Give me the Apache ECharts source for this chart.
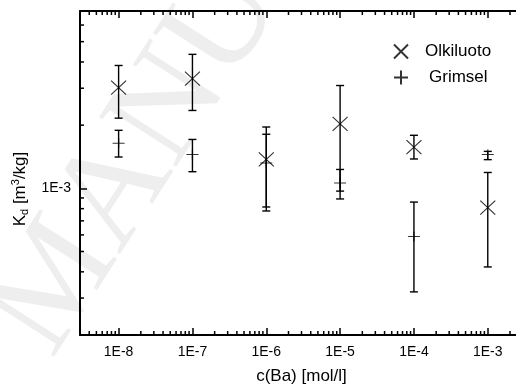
<!DOCTYPE html>
<html><head><meta charset="utf-8">
<script src="https://cdn.jsdelivr.net/npm/echarts@6/dist/echarts.min.js"></script>
<style>html,body{margin:0;padding:0;background:#fff}#c{width:516px;height:385px}</style>
</head><body><div id="c"></div>
<script>
// ---- data ----
const concentrations = [1e-8, 1e-7, 1e-6, 1e-5, 1e-4, 1e-3];
const olkiluotoKd   = [3.02e-3, 3.33e-3, 1.375e-3, 2.03e-3, 1.57e-3, 8.1e-4];
const olkiluotoHigh = [3.85e-3, 4.35e-3, 1.96e-3, 3.09e-3, 1.79e-3, 1.19e-3];
const olkiluotoLow  = [2.16e-3, 2.35e-3, 7.8e-4, 8.9e-4, 1.38e-3, 4.22e-4];
const grimselKd     = [1.64e-3, 1.45e-3, 1.32e-3, 1.06e-3, 5.9e-4, 1.45e-3];
const grimselHigh   = [1.89e-3, 1.71e-3, 1.81e-3, 1.23e-3, 8.6e-4, 1.50e-3];
const grimselLow    = [1.41e-3, 1.20e-3, 8.15e-4, 9.7e-4, 3.21e-4, 1.37e-3];
const seriesNames = ['Olkiluoto', 'Grimsel'];
const xTickLabels = ['1E-8', '1E-7', '1E-6', '1E-5', '1E-4', '1E-3'];
const yTickLabels = ['1E-3'];
const xDecades = [1e-9, 1e-8, 1e-7, 1e-6, 1e-5, 1e-4, 1e-3];
const yDecades = [1e-4, 1e-3];
const mantissas = [2, 3, 4, 5, 6, 7, 8, 9];
const xRange = [3e-9, 3e-3];
const yRange = [2e-4, 7e-3];

// minor tick values (log axis sub-ticks)
const xMinor = [], yMinor = [];
xDecades.forEach(d => mantissas.forEach(m => { const v = d * m; if (v > xRange[0] && v < xRange[1]) xMinor.push([v, 1e-3]); }));
yDecades.forEach(d => mantissas.forEach(m => { const v = d * m; if (v > yRange[0] && v < yRange[1]) yMinor.push([1e-6, v]); }));

const expLabel = v => '1E' + Math.round(Math.log10(v));

const X_PATH = 'path://M0,0L10,10M10,0L0,10';
const PLUS_PATH = 'path://M0,5L10,5M5,0L5,10';

function errData(low, high) { return concentrations.map((c, i) => [c, low[i], high[i]]); }
function ptData(vals) { return concentrations.map((c, i) => [c, vals[i]]); }

function renderErr(params, api) {
  const x = api.value(0);
  const lo = api.coord([x, api.value(1)]);
  const hi = api.coord([x, api.value(2)]);
  const st = { stroke: '#000', lineWidth: 1.4 };
  return { type: 'group', children: [
    { type: 'line', shape: { x1: lo[0], y1: lo[1], x2: hi[0], y2: hi[1] }, style: st },
    { type: 'line', shape: { x1: lo[0] - 4, y1: lo[1], x2: lo[0] + 4, y2: lo[1] }, style: st },
    { type: 'line', shape: { x1: hi[0] - 4, y1: hi[1], x2: hi[0] + 4, y2: hi[1] }, style: st }
  ]};
}
function renderXMinor(params, api) {
  const cs = params.coordSys;
  const p = api.coord([api.value(0), api.value(1)]);
  const st = { stroke: '#000', lineWidth: 1.5 };
  const b = cs.y + cs.height, t = cs.y;
  return { type: 'group', children: [
    { type: 'line', shape: { x1: p[0], y1: b, x2: p[0], y2: b - 4 }, style: st },
    { type: 'line', shape: { x1: p[0], y1: t, x2: p[0], y2: t + 4 }, style: st }
  ]};
}
function renderYMinor(params, api) {
  const cs = params.coordSys;
  const p = api.coord([api.value(0), api.value(1)]);
  return { type: 'line', shape: { x1: cs.x, y1: p[1], x2: cs.x + 4, y2: p[1] }, style: { stroke: '#000', lineWidth: 1.5 } };
}

const chart = echarts.init(document.getElementById('c'), null, { renderer: 'canvas' });
const axisLineStyle = { color: '#000', width: 2 };
const baseX = {
  type: 'log', logBase: 10, min: xRange[0], max: xRange[1],
  axisLine: { show: true, lineStyle: axisLineStyle },
  axisTick: { show: true, inside: true, length: 7, lineStyle: { color: '#000', width: 1.5 } },
  splitLine: { show: false }
};
chart.setOption({
  animation: false,
  backgroundColor: '#fff',
  textStyle: { fontFamily: 'Liberation Sans, Arial, sans-serif' },
  graphic: [{
    type: 'text', silent: true, z: -10,
    x: 80, y: 378, rotation: 1.0,
    style: { text: 'MANUSCRIPT', font: '140px "Liberation Serif"', fill: '#eeeeee', textAlign: 'left', textVerticalAlign: 'bottom' }
  }],
  grid: { left: 80, top: 11, width: 443, height: 324, containLabel: false, outerBoundsMode: 'none' },
  legend: {
    orient: 'vertical', left: 388, top: 38, itemWidth: 14, itemHeight: 14, itemGap: 9,
    textStyle: { fontSize: 17, color: '#000', lineHeight: 14 },
    data: [
      { name: seriesNames[0], icon: X_PATH, textStyle: { padding: [0, 0, 0, 12] } },
      { name: seriesNames[1], icon: PLUS_PATH, textStyle: { padding: [0, 0, 0, 16] } }
    ]
  },
  xAxis: [
    Object.assign({}, baseX, {
      position: 'bottom',
      axisLabel: { show: true, fontSize: 14, color: '#000', margin: 10, showMinLabel: false, showMaxLabel: false,
        formatter: v => { const s = expLabel(v); return xTickLabels.includes(s) ? s : ''; } },
      name: 'c(Ba) [mol/l]', nameLocation: 'middle', nameGap: 33,
      nameTextStyle: { fontSize: 17, color: '#000' }
    }),
    Object.assign({}, baseX, { position: 'top', axisLabel: { show: false } })
  ],
  yAxis: [{
    type: 'log', logBase: 10, min: yRange[0], max: yRange[1], position: 'left',
    axisLine: { show: true, lineStyle: axisLineStyle },
    axisTick: { show: true, inside: true, length: 7, lineStyle: { color: '#000', width: 1.5 } },
    splitLine: { show: false },
    axisLabel: { show: true, fontSize: 14, color: '#000', margin: 9, showMinLabel: false, showMaxLabel: false,
      formatter: v => { const s = expLabel(v); return yTickLabels.includes(s) ? s : ''; } },
    name: 'K{sub|d} [m{sup|3}/kg]', nameLocation: 'middle', nameGap: 46, nameRotate: 90,
    nameTextStyle: { fontSize: 17, color: '#000', padding: [0, 32, 0, 0],
      rich: { sub: { fontSize: 11, verticalAlign: 'bottom', padding: [9, 0, 0, 0] }, sup: { fontSize: 11, verticalAlign: 'top', padding: [0, 0, 7, 0] } } }
  }],
  series: [
    { type: 'custom', name: 'xminor', coordinateSystem: 'cartesian2d', renderItem: renderXMinor, data: xMinor, silent: true, clip: false, z: 5 },
    { type: 'custom', name: 'yminor', coordinateSystem: 'cartesian2d', renderItem: renderYMinor, data: yMinor, silent: true, clip: false, z: 5 },
    { type: 'custom', name: seriesNames[0] + ' err', coordinateSystem: 'cartesian2d', renderItem: renderErr, data: errData(olkiluotoLow, olkiluotoHigh), silent: true, z: 3 },
    { type: 'custom', name: seriesNames[1] + ' err', coordinateSystem: 'cartesian2d', renderItem: renderErr, data: errData(grimselLow, grimselHigh), silent: true, z: 3 },
    { type: 'scatter', name: seriesNames[0], data: ptData(olkiluotoKd), symbol: X_PATH, symbolSize: [15, 14],
      itemStyle: { color: 'rgba(0,0,0,0)', borderColor: '#000', borderWidth: 1.1 }, z: 4 },
    { type: 'scatter', name: seriesNames[1], data: ptData(grimselKd), symbol: PLUS_PATH, symbolSize: [12, 10],
      itemStyle: { color: 'rgba(0,0,0,0)', borderColor: '#000', borderWidth: 1.1 }, z: 4 }
  ]
});
</script>
</body></html>
